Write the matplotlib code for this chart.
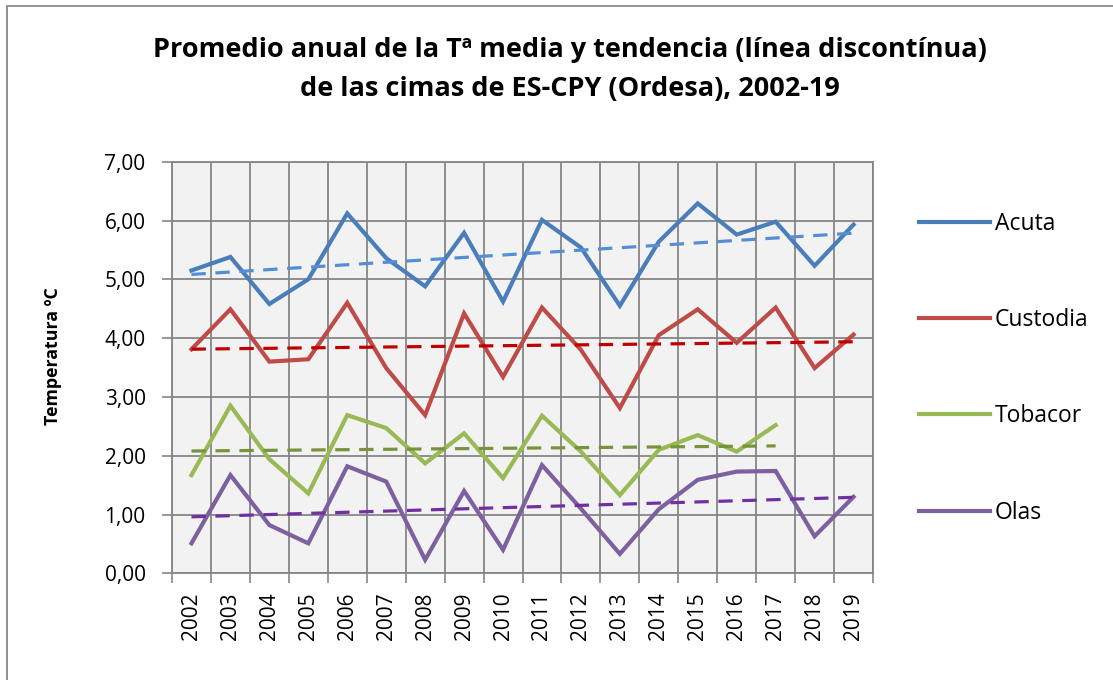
import numpy as np
import matplotlib
matplotlib.use("Agg")
import matplotlib.pyplot as plt
from matplotlib.ticker import FixedLocator, FuncFormatter, NullFormatter
from matplotlib.patches import Rectangle

plt.rcParams['font.family'] = ['Open Sans', 'DejaVu Sans']

years = [str(y) for y in range(2002, 2020)]
acuta = [5.15, 5.38, 4.58, 5.00, 6.12, 5.36, 4.88, 5.79, 4.62,
         6.01, 5.54, 4.55, 5.64, 6.29, 5.76, 5.98, 5.23, 5.93]
custodia = [3.81, 4.49, 3.60, 3.64, 4.60, 3.49, 2.69, 4.42, 3.34,
            4.52, 3.80, 2.81, 4.05, 4.49, 3.92, 4.52, 3.49, 4.06]
tobacor = [1.67, 2.85, 1.94, 1.36, 2.69, 2.47, 1.87, 2.38, 1.62,
           2.68, 2.07, 1.33, 2.10, 2.35, 2.07, 2.52]
olas = [0.51, 1.67, 0.82, 0.51, 1.82, 1.56, 0.23, 1.40, 0.40,
        1.84, 1.10, 0.33, 1.09, 1.59, 1.73, 1.74, 0.63, 1.30]

series = [
    ('Acuta', acuta, '#4A7EBB', '#558ED5'),
    ('Custodia', custodia, '#BE4B48', '#C00000'),
    ('Tobacor', tobacor, '#98B954', '#77933C'),
    ('Olas', olas, '#7D60A0', '#7030A0'),
]

fig = plt.figure(figsize=(11.13, 6.8), dpi=100)
ax = fig.add_axes([172/1113, 1 - 573.3/680, (873-172)/1113, (573.3-161.7)/680])
ax.set_facecolor('#F2F2F2')

handles = []
for name, vals, col, tcol in series:
    x = np.arange(len(vals))
    h, = ax.plot(x, vals, color=col, lw=3.0, solid_joinstyle='miter', label=name, zorder=3)
    handles.append(h)
    # linear trend line (like Excel's)
    k, b = np.polyfit(x, vals, 1)
    ax.plot(x, k * x + b, color=tcol, lw=2.3, ls=(0, (4.5, 3)), zorder=4)

ax.set_xlim(-0.5, len(years) - 0.5)
ax.set_ylim(0, 7)
ax.xaxis.set_major_locator(FixedLocator(np.arange(-0.5, len(years), 1)))
ax.xaxis.set_major_formatter(NullFormatter())
ax.xaxis.set_minor_locator(FixedLocator(np.arange(len(years))))
ax.set_xticklabels(years, minor=True, rotation=90, fontsize=15)
ax.tick_params(axis='x', which='major', length=7, width=1.2, color='#868686', direction='out')
ax.tick_params(axis='x', which='minor', length=0, pad=14)
ax.yaxis.set_major_locator(FixedLocator(range(0, 8)))
ax.yaxis.set_major_formatter(FuncFormatter(lambda v, p: f"{v:.2f}".replace('.', ',')))
ax.tick_params(axis='y', length=7, width=1.2, color='#868686', labelsize=15, pad=12)
ax.grid(True, which='major', color='#868686', lw=1.3)
ax.set_axisbelow(True)
for s in ax.spines.values():
    s.set_color('#868686')
    s.set_linewidth(1.3)

ax.set_ylabel('Temperatura ºC', fontsize=12.8, fontweight='bold')
ax.yaxis.set_label_coords(-0.157, 0.528)

fig.text(0.512, 1 - 57/680, 'Promedio anual de la Tª media y tendencia (línea discontínua)',
         ha='center', va='baseline', fontsize=19.5, fontweight='bold')
fig.text(0.512, 1 - 96/680, 'de las cimas de ES-CPY (Ordesa), 2002-19',
         ha='center', va='baseline', fontsize=19.5, fontweight='bold')

fig.legend(handles=handles, loc='upper left', bbox_to_anchor=(898/1113, 1 - 191/680),
           frameon=False, fontsize=16.5, handlelength=3.1, handletextpad=0.22,
           labelspacing=3.16)

fig.patches.append(Rectangle((7/1113, -0.1), 1.2, 1.1 - 6/680, fill=False,
                             edgecolor='#898989', lw=1.3, transform=fig.transFigure))

fig.savefig('out.png', dpi=100)
